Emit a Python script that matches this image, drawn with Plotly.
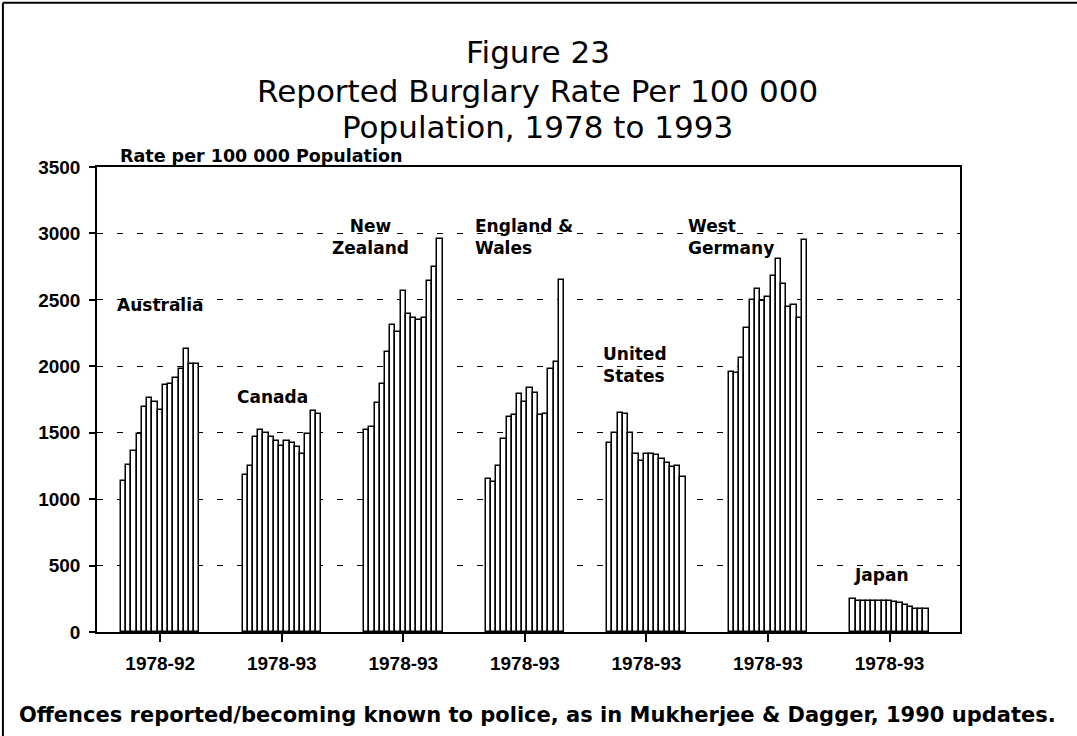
import plotly.graph_objects as go

# Reported burglary rate per 100 000 population, one bar per year
countries = ["Australia", "Canada", "New Zealand", "England & Wales",
             "United States", "West Germany", "Japan"]
periods = ["1978-92", "1978-93", "1978-93", "1978-93", "1978-93", "1978-93", "1978-93"]

australia = [1140, 1260, 1360, 1490, 1690, 1760, 1730, 1670, 1860, 1870, 1910, 1980, 2130, 2020, 2020]
canada = [1180, 1250, 1470, 1520, 1500, 1470, 1440, 1400, 1440, 1420, 1390, 1340, 1490, 1660, 1640]
new_zealand = [1520, 1540, 1720, 1870, 2110, 2310, 2260, 2570, 2390, 2360, 2350, 2360, 2640, 2750, 2960]
england_wales = [1150, 1130, 1250, 1450, 1620, 1630, 1790, 1730, 1840, 1800, 1630, 1640, 1980, 2030, 2650]
united_states = [1420, 1500, 1650, 1640, 1500, 1340, 1290, 1340, 1340, 1330, 1300, 1270, 1240, 1250, 1170]
west_germany = [1960, 1950, 2060, 2290, 2500, 2580, 2490, 2520, 2680, 2810, 2620, 2450, 2460, 2360, 2950]
japan = [250, 235, 235, 235, 235, 235, 235, 230, 225, 215, 200, 190, 175, 170, 170]

series = [australia, canada, new_zealand, england_wales, united_states, west_germany, japan]

BAR_W = 0.043
TICK_FONT = "Liberation Sans, Arial, sans-serif"
TEXT_FONT = "DejaVu Sans, sans-serif"

fig = go.Figure()
for g, vals in enumerate(series):
    n = len(vals)
    xs = [g + (i - (n - 1) / 2) * BAR_W for i in range(n)]
    fig.add_trace(go.Bar(
        x=xs, y=vals, width=BAR_W, name=countries[g],
        marker=dict(color="white", line=dict(color="black", width=1.5)),
        showlegend=False, hoverinfo="skip",
    ))

# country labels placed beside their bar groups
labels = [
    ("Australia", 0.0, 2460, "center"),
    ("Canada", 0.92, 1770, "center"),
    ("New<br>Zealand", 1.726, 2975, "center"),
    ("England &<br>Wales", 2.575, 2975, "left"),
    ("United<br>States", 3.626, 2010, "left"),
    ("West<br>Germany", 4.326, 2975, "left"),
    ("Japan", 5.938, 430, "center"),
]
for txt, x, y, anchor in labels:
    fig.add_annotation(x=x, y=y, text="<b>%s</b>" % txt, showarrow=False, xanchor=anchor,
                       align=anchor, yanchor="middle",
                       font=dict(size=17, color="black", family=TEXT_FONT))

title_lines = ["Figure 23", "Reported Burglary Rate Per 100 000", "Population, 1978 to 1993"]
for txt, y in zip(title_lines, [1.247, 1.163, 1.086]):
    fig.add_annotation(xref="paper", yref="paper", x=0.511, y=y, text=txt, showarrow=False,
                       xanchor="center", yanchor="middle",
                       font=dict(size=31, color="black", family=TEXT_FONT))

fig.add_annotation(xref="paper", yref="paper", x=0.024, y=1.024,
                   text="<b>Rate per 100 000 Population</b>", showarrow=False,
                   xanchor="left", yanchor="middle",
                   font=dict(size=17.5, color="black", family=TEXT_FONT))

fig.add_annotation(xref="paper", yref="paper", x=0.511, y=-0.178,
                   text="<b>Offences reported/becoming known to police, as in Mukherjee & Dagger, 1990 updates.</b>",
                   showarrow=False, xanchor="center", yanchor="middle",
                   font=dict(size=21, color="black", family=TEXT_FONT))

# outer frame of the figure
fig.add_shape(type="line", xref="paper", yref="paper", x0=-0.109, x1=1.2, y0=1.353, y1=1.353,
              line=dict(color="black", width=2))
fig.add_shape(type="line", xref="paper", yref="paper", x0=-0.109, x1=-0.109, y0=1.353, y1=-0.3,
              line=dict(color="black", width=2))

fig.update_layout(
    width=1077, height=736,
    margin=dict(l=97, r=117, t=167, b=104),
    paper_bgcolor="white", plot_bgcolor="white",
    bargap=0,
    font=dict(family=TICK_FONT, color="black"),
    xaxis=dict(
        range=[-0.52, 6.58], tickvals=list(range(7)),
        ticktext=["<b>%s</b>" % p for p in periods],
        ticks="outside", ticklen=8, tickwidth=1.5, tickcolor="black",
        ticklabelstandoff=5,
        showline=True, linecolor="black", linewidth=1.5, mirror=True,
        showgrid=False, zeroline=False,
        tickfont=dict(size=19, color="black", family=TICK_FONT),
    ),
    yaxis=dict(
        range=[0, 3500],
        tickvals=[0, 500, 1000, 1500, 2000, 2500, 3000, 3500],
        ticktext=["<b>%d</b>" % v for v in [0, 500, 1000, 1500, 2000, 2500, 3000, 3500]],
        ticks="outside", ticklen=6, tickwidth=1.5, tickcolor="black",
        ticklabelstandoff=5,
        showline=True, linecolor="black", linewidth=1.5, mirror=True,
        showgrid=True, gridcolor="black", gridwidth=1, griddash="6px,14px",
        zeroline=False,
        tickfont=dict(size=19, color="black", family=TICK_FONT),
    ),
)

# drop the default page margin so the figure sits at the window's corner
fig.write_html("out.html", config={"displayModeBar": False},
               post_script="document.body.style.margin = '0';")
